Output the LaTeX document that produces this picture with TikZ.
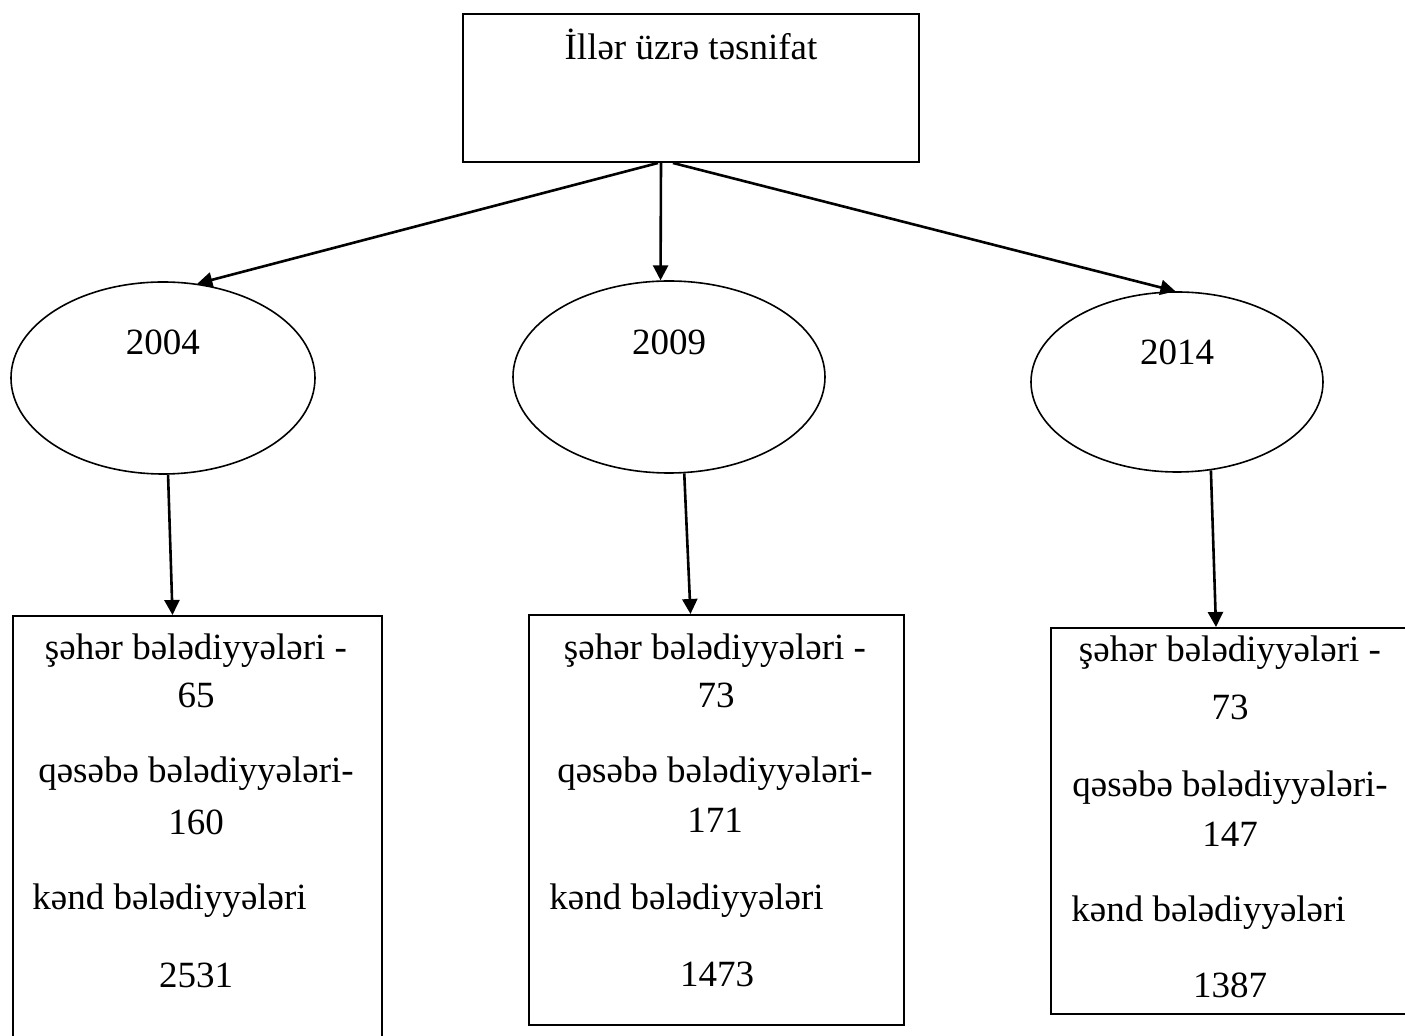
\documentclass[tikz,border=0pt]{standalone}
\usepackage{fontspec}
\setmainfont{Liberation Serif}
\usetikzlibrary{shapes.geometric,arrows.meta,calc}
\begin{document}
\begin{tikzpicture}[x=0.5pt,y=-0.5pt,
  box/.style={draw,line width=1pt,rectangle,inner sep=0pt,anchor=north west},
  oval/.style={draw,line width=0.8pt,ellipse,inner sep=0pt},
  lbl/.style={font=\fontsize{18.5pt}{22pt}\selectfont,inner sep=0pt,anchor=base},
  lbll/.style={lbl,anchor=base west},
  arr/.style={line width=1.3pt,-{Triangle[length=7.5pt,width=7.5pt]}}]
\useasboundingbox (0,0) rectangle (1405,1036);
% top box
\node[box,minimum width=228pt,minimum height=74pt] (top) at (462,13) {};
\node[lbl] (toptxt) at (691,60) {İllər üzrə təsnifat};
% ellipses
\node[oval,minimum width=152pt,minimum height=96pt] (e1) at (163,378) {};
\node[oval,minimum width=156pt,minimum height=96pt] (e2) at (669,377) {};
\node[oval,minimum width=146pt,minimum height=90pt] (e3) at (1177,382) {};
\node[lbl] (y1) at (163,355) {2004};
\node[lbl] (y2) at (669,355) {2009};
\node[lbl] (y3) at (1177,365) {2014};
% bottom boxes
\node[box,minimum width=184.5pt,minimum height=212.5pt] (b1) at (12,615) {};
\node[box,minimum width=187.5pt,minimum height=205pt] (b2) at (528,614) {};
\node[box,minimum width=179pt,minimum height=193pt] (b3) at (1050,627) {};
% texts box 1
\node[lbl] (b1a) at (196,660) {şəhər bələdiyyələri -};
\node[lbl] (b1b) at (196,708) {65};
\node[lbl] (b1c) at (196,783) {qəsəbə bələdiyyələri-};
\node[lbl] (b1d) at (196,835) {160};
\node[lbll] (b1e) at (32,910) {kənd bələdiyyələri};
\node[lbl] (b1f) at (196,988) {2531};
% texts box 2
\node[lbl] (b2a) at (715,660) {şəhər bələdiyyələri -};
\node[lbl] (b2b) at (716,708) {73};
\node[lbl] (b2c) at (715,783) {qəsəbə bələdiyyələri-};
\node[lbl] (b2d) at (715,833) {171};
\node[lbll] (b2e) at (549,910) {kənd bələdiyyələri};
\node[lbl] (b2f) at (717,987) {1473};
% texts box 3
\node[lbl] (b3a) at (1230,662) {şəhər bələdiyyələri -};
\node[lbl] (b3b) at (1230,720) {73};
\node[lbl] (b3c) at (1230,797) {qəsəbə bələdiyyələri-};
\node[lbl] (b3d) at (1230,847) {147};
\node[lbll] (b3e) at (1071,922) {kənd bələdiyyələri};
\node[lbl] (b3f) at (1230,998) {1387};
% arrows from top
\draw[arr] ($(top.south)+(-33,0)$) -- (e1.70);
\draw[arr] ($(top.south)+(-30,0)$) -- (e2.95);
\draw[arr] ($(top.south)+(-18,0)$) -- (e3.91);
% arrows to boxes
\draw[arr] (e1.-87) -- ($(b1.north)+(-25,0)$);
\draw[arr] (e2.-81) -- ($(b2.north)+(-26,0)$);
\draw[arr] (e3.-69) -- ($(b3.north)+(-14,0)$);
\end{tikzpicture}
\end{document}
